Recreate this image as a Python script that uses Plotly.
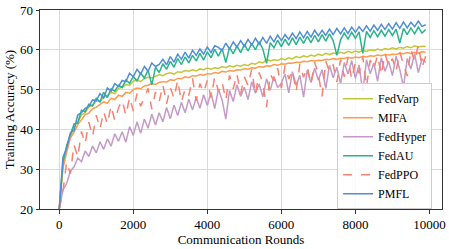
import plotly.graph_objects as go

rounds = list(range(0, 10000, 100))
x_ticks = [0, 2000, 4000, 6000, 8000, 10000]
x_tick_labels = ["0", "2000", "4000", "6000", "8000", "10000"]
y_ticks = [20, 30, 40, 50, 60, 70]

fedvarp = [20.0, 31.2, 35.4, 38.2, 40.9, 41.8, 43.6, 44.2, 45.7, 46.1,
           47.2, 47.0, 48.1, 48.5, 49.3, 49.0, 50.3, 50.6, 51.3, 51.1,
           52.1, 52.4, 52.0, 52.8, 53.1, 52.9, 53.4, 53.8, 53.5, 54.0,
           54.2, 53.9, 54.5, 54.3, 54.8, 54.6, 55.0, 54.7, 55.2, 55.0,
           55.4, 55.1, 55.5, 55.3, 55.8, 55.5, 56.0, 55.7, 56.1, 55.9,
           56.3, 56.0, 56.6, 56.4, 57.0, 56.7, 57.6, 57.2, 57.5, 57.3,
           57.8, 57.5, 58.0, 57.7, 58.3, 58.0, 58.5, 58.2, 58.7, 58.4,
           58.9, 58.6, 59.1, 58.8, 59.2, 59.0, 59.4, 59.1, 59.6, 59.3,
           59.7, 59.4, 59.9, 59.6, 60.0, 59.8, 60.2, 59.9, 60.3, 60.1,
           60.5, 60.2, 60.6, 60.4, 60.8, 60.5, 61.0, 60.7, 60.9, 60.8]

mifa = [20.0, 30.2, 34.3, 37.8, 39.3, 41.2, 42.4, 43.7, 44.1, 45.2,
        45.6, 46.2, 46.9, 46.6, 47.8, 47.5, 48.6, 48.3, 49.3, 49.1,
        50.0, 50.4, 50.2, 50.9, 51.1, 51.5, 51.3, 51.8, 52.0, 51.9,
        52.5, 52.3, 52.8, 52.7, 53.2, 53.0, 53.5, 53.4, 53.8, 53.6,
        54.0, 53.9, 54.3, 54.1, 54.6, 54.4, 54.8, 54.6, 55.0, 54.9,
        55.3, 55.1, 55.5, 55.4, 55.8, 55.6, 56.0, 55.9, 56.3, 56.1,
        56.5, 56.4, 56.7, 56.6, 56.9, 56.8, 57.1, 57.0, 57.3, 57.2,
        57.4, 57.3, 57.6, 57.5, 57.8, 57.6, 57.9, 57.8, 58.1, 57.9,
        58.2, 58.0, 58.4, 58.2, 58.5, 58.4, 58.7, 58.5, 58.8, 58.7,
        58.9, 58.8, 59.1, 59.0, 59.3, 59.1, 59.4, 59.2, 59.5, 59.4]

fedhyper = [20.0, 24.8, 26.4, 29.5, 30.6, 32.8, 31.9, 34.6, 33.2, 35.8,
            34.1, 36.9, 35.0, 37.6, 35.8, 38.9, 37.0, 39.4, 36.8, 40.7,
            38.5, 41.9, 39.0, 42.6, 40.3, 43.8, 41.1, 44.2, 41.9, 45.5,
            42.7, 46.1, 43.5, 46.8, 44.2, 47.6, 44.9, 48.0, 45.3, 48.7,
            46.0, 49.3, 45.2, 50.1, 47.4, 42.6, 49.8, 47.0, 51.2, 48.3,
            50.6, 47.5, 52.0, 49.1, 51.4, 48.2, 52.7, 49.8, 53.3, 50.5,
            51.6, 53.9, 49.2, 54.5, 51.0, 53.6, 48.1, 54.9, 51.8, 55.4,
            52.4, 55.0, 50.3, 56.1, 53.0, 55.6, 51.5, 56.8, 53.9, 57.3,
            52.8, 56.2, 49.4, 57.5, 54.0, 56.7, 52.1, 58.0, 54.6, 57.1,
            53.5, 58.4, 55.0, 50.6, 57.8, 55.2, 59.0, 54.3, 57.7, 56.8]

fedau = [20.0, 31.8, 35.9, 38.7, 41.4, 41.6, 44.8, 44.5, 46.3, 45.9,
         47.8, 46.9, 49.3, 48.0, 50.2, 49.6, 51.1, 50.5, 52.4, 51.6,
         53.3, 52.2, 54.1, 52.9, 54.9, 51.2, 55.6, 54.3, 56.5, 55.1,
         57.1, 55.6, 57.8, 56.3, 58.2, 56.7, 58.6, 57.2, 59.1, 57.4,
         59.5, 58.0, 60.1, 58.4, 60.3, 56.8, 60.6, 59.0, 61.0, 59.3,
         61.3, 59.7, 61.6, 60.0, 62.0, 60.2, 56.6, 61.8, 60.5, 62.4,
         60.8, 62.7, 61.1, 63.0, 61.3, 63.2, 61.6, 63.4, 61.8, 63.6,
         62.0, 63.8, 62.2, 64.0, 62.3, 58.6, 62.5, 64.2, 62.7, 64.4,
         62.9, 64.5, 59.1, 64.6, 63.1, 64.8, 63.3, 64.9, 63.4, 65.1,
         63.6, 65.2, 61.7, 65.4, 63.8, 65.5, 64.0, 65.7, 64.2, 65.1]

fedppo = [20.0, 24.5, 31.8, 28.9, 36.2, 33.0, 39.5, 36.4, 41.8, 38.2,
          43.6, 40.1, 44.5, 41.3, 46.0, 42.2, 45.4, 47.3, 43.5, 48.1,
          44.6, 49.0, 45.8, 48.2, 50.3, 45.1, 49.4, 47.0, 51.2, 46.4,
          50.6, 47.8, 52.4, 46.9, 50.1, 48.5, 52.8, 47.2, 51.5, 49.3,
          52.3, 48.0, 53.1, 49.6, 51.8, 47.4, 53.6, 50.2, 54.0, 49.0,
          53.2, 51.0, 55.1, 48.8, 54.3, 51.6, 45.6, 53.9, 52.2, 55.4,
          50.4, 56.0, 52.7, 54.8, 49.5, 56.5, 53.1, 55.7, 51.4, 56.9,
          53.8, 48.3, 57.2, 54.5, 56.3, 51.9, 57.6, 53.2, 58.0, 52.6,
          56.8, 54.1, 58.3, 50.7, 57.4, 55.3, 58.6, 53.7, 59.1, 55.9,
          57.8, 54.6, 59.5, 56.2, 53.4, 60.1, 57.0, 61.3, 55.6, 58.4]

pmfl = [20.0, 33.0, 35.2, 39.1, 39.8, 43.6, 44.2, 45.3, 45.8, 47.4,
        47.2, 49.0, 47.9, 50.4, 49.6, 51.5, 50.8, 52.3, 52.0, 54.1,
        53.2, 55.1, 53.9, 55.8, 54.6, 56.7, 55.8, 56.3, 57.6, 56.2,
        58.3, 56.9, 58.9, 57.6, 59.4, 57.9, 59.9, 58.6, 60.2, 58.9,
        60.7, 59.3, 61.0, 60.6, 59.8, 61.7, 60.2, 62.0, 60.7, 62.3,
        60.9, 62.6, 61.2, 62.9, 61.4, 63.1, 61.6, 63.4, 62.0, 63.7,
        62.3, 63.8, 62.6, 64.2, 62.8, 64.5, 63.0, 64.6, 63.2, 64.9,
        63.5, 64.9, 63.6, 65.2, 63.8, 65.4, 64.0, 65.5, 64.1, 65.7,
        64.4, 65.8, 64.6, 66.0, 64.7, 66.2, 64.9, 66.4, 65.1, 66.6,
        65.2, 66.8, 65.4, 67.0, 65.5, 66.9, 65.8, 67.2, 65.9, 66.3]

series = [
    ("FedVarp", fedvarp, "#c2c737", "solid"),
    ("MIFA", mifa, "#fd9b4e", "solid"),
    ("FedHyper", fedhyper, "#c49ac6", "solid"),
    ("FedAU", fedau, "#2bb38c", "solid"),
    ("FedPPO", fedppo, "#f7826f", "dash"),
    ("PMFL", pmfl, "#4f8fd6", "solid"),
]

fig = go.Figure()
for name, vals, color, dash in series:
    fig.add_trace(go.Scatter(x=rounds, y=vals, mode="lines", name=name,
                             line=dict(color=color, width=1.5, dash=dash)))

serif = "Liberation Serif"
font = dict(family=serif, size=13, color="black")
axis_common = dict(showline=True, linecolor="#333333", linewidth=1, mirror=True,
                   showgrid=True, gridcolor="#d9d9d9", gridwidth=1,
                   ticks="outside", ticklen=3.5, tickcolor="#333333", zeroline=False,
                   automargin=False, tickfont=dict(family=serif, size=13, color="black"))

fig.update_layout(
    width=449, height=249,
    margin=dict(l=40, r=7, t=10, b=40),
    paper_bgcolor="white", plot_bgcolor="white",
    font=font,
    showlegend=True,
    legend=dict(x=0.739, y=0.632, xanchor="left", yanchor="top",
                bgcolor="rgba(255,255,255,0.85)", bordercolor="#cccccc", borderwidth=1,
                font=dict(family=serif, size=12, color="black"),
                tracegroupgap=0, itemwidth=30),
    xaxis=dict(range=[-520, 10340], tickvals=x_ticks, ticktext=x_tick_labels,
               title=dict(text="Communication Rounds", standoff=0,
                          font=dict(family=serif, size=13, color="black")), **axis_common),
    yaxis=dict(range=[20, 70], tickvals=y_ticks,
               title=dict(text="Training Accuracy (%)", standoff=2,
                          font=dict(family=serif, size=13, color="black")), **axis_common),
)

# remove the browser's default 8px body margin so the 449x249 figure fills the window
fig.write_html("out.html",
               config={"displayModeBar": False},
               post_script="document.body.style.margin='0';document.body.style.overflow='hidden';")
